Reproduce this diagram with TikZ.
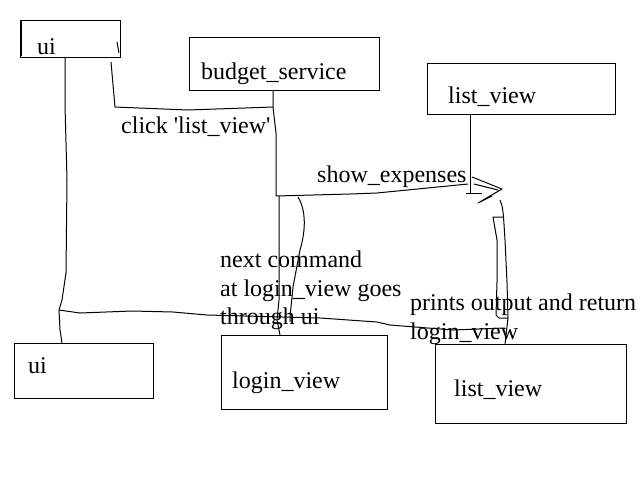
\documentclass[tikz,border=0pt]{standalone}
\usepackage{fontspec}
\setmainfont{Liberation Serif}
\begin{document}
\begin{tikzpicture}[x=1pt,y=-1pt,
  box/.style={draw=black, line width=1pt, anchor=north west, inner sep=0pt},
  lbl/.style={anchor=base west, inner sep=0pt, font=\fontsize{24}{29}\selectfont},
  pen/.style={draw=black, line width=1pt, line join=round}]
\useasboundingbox[fill=white] (0,0) rectangle (640,480);
% boxes
\node[box, minimum width=100pt, minimum height=37pt] (ui1) at (20,20) {};
\node[box, minimum width=190pt, minimum height=53pt] (bs) at (189,37) {};
\node[box, minimum width=188pt, minimum height=51pt] (lv1) at (427,63) {};
\node[box, minimum width=139pt, minimum height=55pt] (ui2) at (14,343) {};
\node[box, minimum width=166pt, minimum height=74pt] (lg) at (221,335) {};
\node[box, minimum width=191pt, minimum height=79pt] (lv2) at (435,344) {};
\draw[line width=2pt] (21,21) -- (21,56);
\draw[pen] (117,42) -- (119,53);
% texts in boxes
\node[lbl] (tui1) at (37,54) {ui};
\node[lbl] (tbs) at (201,79) {budget\_service};
\node[lbl] (tlv1) at (448,103) {list\_view};
\node[lbl] (tui2) at (28,373) {ui};
\node[lbl] (tlg) at (232,388) {login\_view};
\node[lbl] (tlv2) at (454,396) {list\_view};
% connector labels
\node[lbl] (tclick) at (121,133) {click \textquotesingle list\_view\textquotesingle};
\node[lbl] (tshow) at (317,182) {show\_expenses};
\node[lbl] (tn1) at (220,267) {next command};
\node[lbl] (tn2) at (220,296) {at login\_view goes};
\node[lbl] (tn3) at (220,324) {through ui};
\node[lbl] (tp1) at (410,310) {prints output and return};
\node[lbl] (tp2) at (410,339) {login\_view};
% named points of the sketch
\coordinate (a) at (273,107);
\coordinate (b) at (276,196);
\coordinate (c) at (59,310);
\coordinate (d) at (500,200);
% ui -> budget_service
\draw[pen] (ui1.south east) ++(-10,4) -- (115,107) -- (188,110) -- (a);
\draw[pen] (bs.south -| a) -- (a) -- (276,133) -- (b);
% show_expenses arrow
\draw[pen] (b) -- (350,194) -- (377,193) -- (468,184);
\draw[pen] (472,177) -- (502,189) -- (478,203) -- (492,196);
\draw[pen] (474,184) -- (498,190);
% list_view lifeline
\draw[pen] (lv1.south -| 470,0) -- (470,193);
\draw[pen] (466,193) -- (482,193);
% return to list_view
\draw[pen] (d) .. controls (503,208) .. (505,240) -- (507,282) -- (508,318) -- (lv2.north -| 505,0);
\draw[pen] (504,217) -- (493,217) -- (497,240) -- (497,282) -- (496,315) -- (499,318) -- (508,318);
% ui lifeline
\draw[pen] (ui1.south -| 65,0) -- (65,105) -- (67,180) -- (66,273) -- (62,300) -- (c) -- (60,330) -- (ui2.north -| 62,0);
\draw[pen] (c) -- (80,313) -- (132,311) -- (173,312) -- (207,315) -- (320,318) -- (377,322) -- (390,325) -- (453,330) -- (505,328);
% budget_service -> login_view
\draw[pen] (279,196) -- (279,300) -- (277,320) -- (lg.north -| 280,0);
\draw[pen] (298,197) .. controls (306,210) and (306,230) .. (300,250) -- (293,287) -- (290,317) -- (290,322);
\end{tikzpicture}
\end{document}
